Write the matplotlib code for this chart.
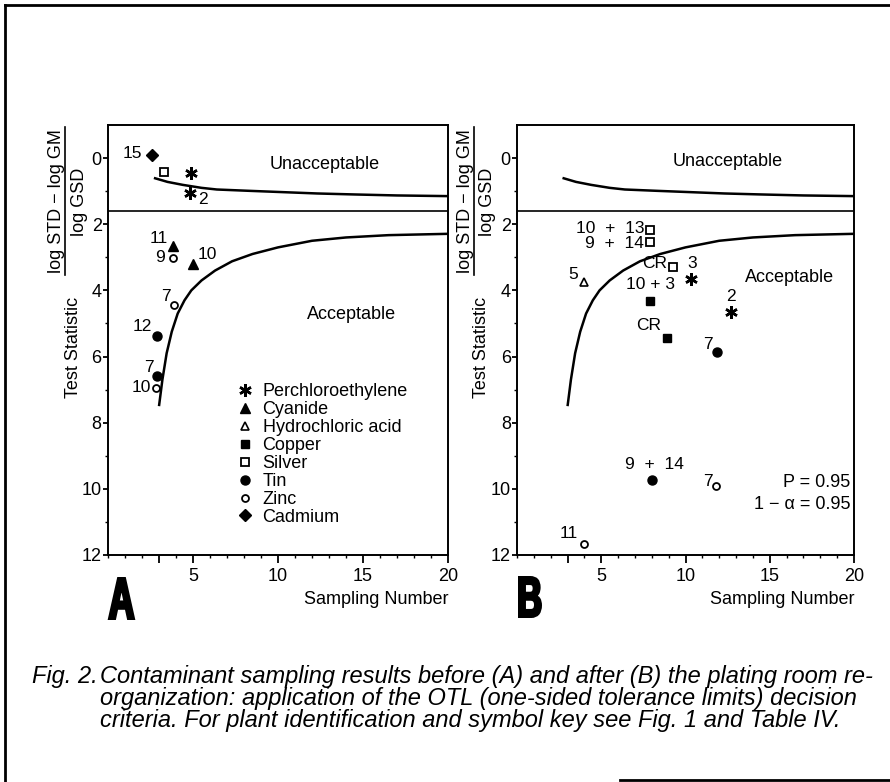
import matplotlib
matplotlib.use('Agg')
import matplotlib.pyplot as plt
from matplotlib.textpath import TextPath
from matplotlib.patches import PathPatch
from matplotlib.font_manager import FontProperties
from matplotlib.transforms import Affine2D, IdentityTransform
from matplotlib.lines import Line2D
from matplotlib.ticker import MultipleLocator, FixedLocator

plt.rcParams['font.family'] = ['Liberation Sans', 'DejaVu Sans']

W, H = 890, 782

# ---------------- data ----------------
# decision curves
upper_n = [2.7, 3.5, 4.4, 5.5, 6.4, 8.3, 10.3, 12.3, 14.5, 17.0, 20.0]
upper_t = [0.6, 0.72, 0.81, 0.9, 0.95, 0.99, 1.03, 1.07, 1.10, 1.13, 1.15]
lower_n = [3.0, 3.2, 3.45, 3.75, 4.1, 4.5, 4.9, 5.5, 6.3, 7.3, 8.5, 10.0, 12.0, 14.0, 16.5, 20.0]
lower_t = [7.5, 6.7, 5.9, 5.25, 4.7, 4.3, 4.0, 3.7, 3.4, 3.12, 2.9, 2.7, 2.5, 2.4, 2.33, 2.29]
limit_t = 1.6

contaminants = ['Perchloroethylene', 'Cyanide', 'Hydrochloric acid', 'Copper',
                'Silver', 'Tin', 'Zinc', 'Cadmium']

# Panel A (before)
a_perc_n = [4.9, 4.85];        a_perc_t = [0.44, 1.05];        a_perc_lab = ['', '2']
a_cyan_n = [3.85, 5.0];        a_cyan_t = [2.67, 3.19];        a_cyan_lab = ['11', '10']
a_silv_n = [3.3];              a_silv_t = [0.42];              a_silv_lab = ['']
a_tin_n = [2.9, 2.9];          a_tin_t = [5.39, 6.59];         a_tin_lab = ['12', '7']
a_zinc_n = [3.8, 3.9, 2.85];   a_zinc_t = [3.02, 4.43, 6.94];  a_zinc_lab = ['9', '7', '10']
a_cadm_n = [2.6];              a_cadm_t = [-0.08];             a_cadm_lab = ['15']

# Panel B (after)
b_silv_n = [7.9, 7.9, 9.28];   b_silv_t = [2.16, 2.55, 3.29];  b_silv_lab = ['10  +  13', '9  +  14', 'CR']
b_hcl_n = [4.0];               b_hcl_t = [3.75];               b_hcl_lab = ['5']
b_perc_n = [10.3, 12.7];       b_perc_t = [3.66, 4.64];        b_perc_lab = ['3', '2']
b_copp_n = [7.9, 8.9];         b_copp_t = [4.33, 5.44];        b_copp_lab = ['10 + 3', 'CR']
b_tin_n = [11.85, 8.0];        b_tin_t = [5.85, 9.74];         b_tin_lab = ['7', '9  +  14']
b_zinc_n = [11.8, 4.0];        b_zinc_t = [9.92, 11.66];       b_zinc_lab = ['7', '11']

# ---------------- styles ----------------
STY = {
    'Perchloroethylene': dict(marker=(6, 2, 0), ms=9, mew=1.8, mfc='black', mec='black'),
    'Cyanide': dict(marker='^', ms=7, mew=1.0, mfc='black', mec='black'),
    'Hydrochloric acid': dict(marker='^', ms=5.5, mew=1.2, mfc='white', mec='black'),
    'Copper': dict(marker='s', ms=6, mew=1.0, mfc='black', mec='black'),
    'Silver': dict(marker='s', ms=5.5, mew=1.3, mfc='white', mec='black'),
    'Tin': dict(marker='o', ms=6.5, mew=1.0, mfc='black', mec='black'),
    'Zinc': dict(marker='o', ms=5, mew=1.3, mfc='white', mec='black'),
    'Cadmium': dict(marker='D', ms=6, mew=1.0, mfc='black', mec='black'),
}
FS = 13
LFS = 12.5

fig = plt.figure(figsize=(W / 100, H / 100), dpi=100)


def px_axes(l, r, t, b):
    return fig.add_axes([l / W, 1 - b / H, (r - l) / W, (b - t) / H])


axA = px_axes(108, 448, 125, 555)
axB = px_axes(517, 854, 125, 555)


def setup(ax):
    ax.set_xlim(0, 20)
    ax.set_ylim(12, -1)
    ax.plot(upper_n, upper_t, color='black', lw=1.8, solid_capstyle='butt')
    ax.plot(lower_n, lower_t, color='black', lw=1.8, solid_capstyle='butt')
    ax.axhline(limit_t, color='black', lw=1.2)
    ax.xaxis.set_major_locator(FixedLocator([3, 5, 10, 15, 20]))
    ax.set_xticklabels(['', '5', '10', '15', '20'])
    ax.xaxis.set_minor_locator(MultipleLocator(1))
    ax.yaxis.set_major_locator(FixedLocator([0, 2, 4, 6, 8, 10, 12]))
    ax.yaxis.set_minor_locator(FixedLocator([1, 3, 5, 7, 9, 11]))
    ax.tick_params(axis='x', which='major', direction='out', length=5.5, width=1.3,
                   pad=4, labelsize=FS)
    ax.tick_params(axis='x', which='minor', direction='out', length=2.5, width=1.0)
    ax.tick_params(axis='y', which='major', direction='out', length=3.5, width=1.3,
                   pad=1, labelsize=FS)
    ax.tick_params(axis='y', which='minor', direction='out', length=2.5, width=1.0)
    for s in ax.spines.values():
        s.set_linewidth(1.4)
    ax.text(20, 12.0 + 1.35, 'Sampling Number', ha='right', va='center', fontsize=FS,
            clip_on=False)


def plot_group(ax, name, n, t, labs, offs, aligns=None):
    ax.plot(n, t, ls='none', color='black', clip_on=False, **STY[name])
    for i, (x, y, lab) in enumerate(zip(n, t, labs)):
        if not lab or offs[i] is None:
            continue
        dx, dy = offs[i]
        ha = aligns[i] if aligns else 'center'
        ax.annotate(lab, (x, y), xytext=(dx, -dy), textcoords='offset pixels',
                    ha=ha, va='center', fontsize=LFS)


setup(axA)
setup(axB)

# panel A points
plot_group(axA, 'Perchloroethylene', a_perc_n, a_perc_t, a_perc_lab, [None, (12, 7)])
plot_group(axA, 'Cyanide', a_cyan_n, a_cyan_t, a_cyan_lab, [(-15, -8), (14, -9)])
plot_group(axA, 'Silver', a_silv_n, a_silv_t, a_silv_lab, [None])
plot_group(axA, 'Tin', a_tin_n, a_tin_t, a_tin_lab, [(-15, -10), (-8, -9)])
plot_group(axA, 'Zinc', a_zinc_n, a_zinc_t, a_zinc_lab, [(-13, 0), (-8, -8), (-15, 0)])
plot_group(axA, 'Cadmium', a_cadm_n, a_cadm_t, a_cadm_lab, [(-20, -2)])

# panel B points
plot_group(axB, 'Silver', b_silv_n, b_silv_t, b_silv_lab, [None, None, (-19, -3)])
# the two stacked silver labels drawn as one two-line text between their squares
axB.annotate(b_silv_lab[0] + '\n' + b_silv_lab[1],
             ((b_silv_n[0] + b_silv_n[1]) / 2, (b_silv_t[0] + b_silv_t[1]) / 2),
             xytext=(-6, 0), textcoords='offset pixels', ha='right', va='center',
             multialignment='right', linespacing=1.0, fontsize=LFS)
plot_group(axB, 'Hydrochloric acid', b_hcl_n, b_hcl_t, b_hcl_lab, [(-11, -8)])
plot_group(axB, 'Perchloroethylene', b_perc_n, b_perc_t, b_perc_lab, [(2, -16), (0, -15)])
plot_group(axB, 'Copper', b_copp_n, b_copp_t, b_copp_lab, [(0, -17), (-18, -13)])
plot_group(axB, 'Tin', b_tin_n, b_tin_t, b_tin_lab, [(-9, -7), (3, -16)])
plot_group(axB, 'Zinc', b_zinc_n, b_zinc_t, b_zinc_lab, [(-8, -5), (-16, -10)])

# region texts
axA.text(12.76, 0.18, 'Unacceptable', ha='center', va='center', fontsize=FS)
axA.text(14.35, 4.73, 'Acceptable', ha='center', va='center', fontsize=FS)
axB.text(12.52, 0.09, 'Unacceptable', ha='center', va='center', fontsize=FS)
axB.text(16.2, 3.6, 'Acceptable', ha='center', va='center', fontsize=FS)
axB.text(19.8, 9.82, 'P = 0.95', ha='right', va='center', fontsize=FS)
axB.text(19.8, 10.48, '1 − α = 0.95', ha='right', va='center', fontsize=FS)

# legend (panel A)
handles = [Line2D([], [], ls='none', color='black', **STY[c]) for c in contaminants]
axA.legend(handles, contaminants, loc='upper left', bbox_to_anchor=(0.375, 0.399),
           frameon=False, fontsize=FS, handlelength=1.0, handletextpad=0.5,
           labelspacing=0.05, borderpad=0, borderaxespad=0)


# y labels (fraction) in pixel positions
def ftext(x, y, s, **kw):
    return fig.text(x / W, 1 - y / H, s, **kw)


for off in (0, 409):
    ftext(73 + off, 347, 'Test Statistic', rotation=90, ha='center', va='center', fontsize=FS)
    ftext(57 + off, 201, 'log STD − log GM', rotation=90, ha='center', va='center', fontsize=FS)
    ftext(79 + off, 202, 'log GSD', rotation=90, ha='center', va='center', fontsize=FS)
    fig.add_artist(Line2D([(65 + off) / W] * 2, [1 - 127 / H, 1 - 275 / H],
                          transform=fig.transFigure, color='black', lw=1.2))


# block letters A / B (heavy, condensed)
def block_letter(ch, x0, y0, x1, y1, stroke=3.0):
    tp = TextPath((0, 0), ch, size=100,
                  prop=FontProperties(family='Liberation Sans', weight='bold'))
    ext = tp.get_extents()
    h = stroke / 2
    tr = (Affine2D().translate(-ext.x0, -ext.y0)
          .scale((x1 - x0 - stroke) / ext.width, (y1 - y0 - stroke) / ext.height)
          .translate(x0 + h, H - y1 + h))
    fig.add_artist(PathPatch(tr.transform_path(tp), facecolor='black', edgecolor='black',
                             lw=stroke * 72 / 100, joinstyle='miter',
                             transform=IdentityTransform()))


block_letter('A', 108, 577, 135, 620)
block_letter('B', 518, 576, 542, 618)

# caption
cap_lines = ['Contaminant sampling results before (A) and after (B) the plating room re-',
             'organization: application of the OTL (one-sided tolerance limits) decision',
             'criteria. For plant identification and symbol key see Fig. 1 and Table IV.']
renderer = fig.canvas.get_renderer()
probe = fig.text(0, 0, cap_lines[0], fontsize=12, style='italic')
wpx = probe.get_window_extent(renderer).width
probe.remove()
cap_fs = 12 * (873 - 100) / wpx
ftext(32, 683, 'Fig. 2.', fontsize=cap_fs, style='italic', va='baseline')
for i, line in enumerate(cap_lines):
    ftext(100, 683 + 22 * i, line, fontsize=cap_fs, style='italic', va='baseline')

# page frame
for xs, ys in [((5, 890), (5, 5)), ((5, 5), (5, 782)), ((620, 890), (780, 780))]:
    fig.add_artist(Line2D([x / W for x in xs], [1 - y / H for y in ys],
                          transform=fig.transFigure, color='black', lw=2))

fig.savefig('out.png', dpi=100)
